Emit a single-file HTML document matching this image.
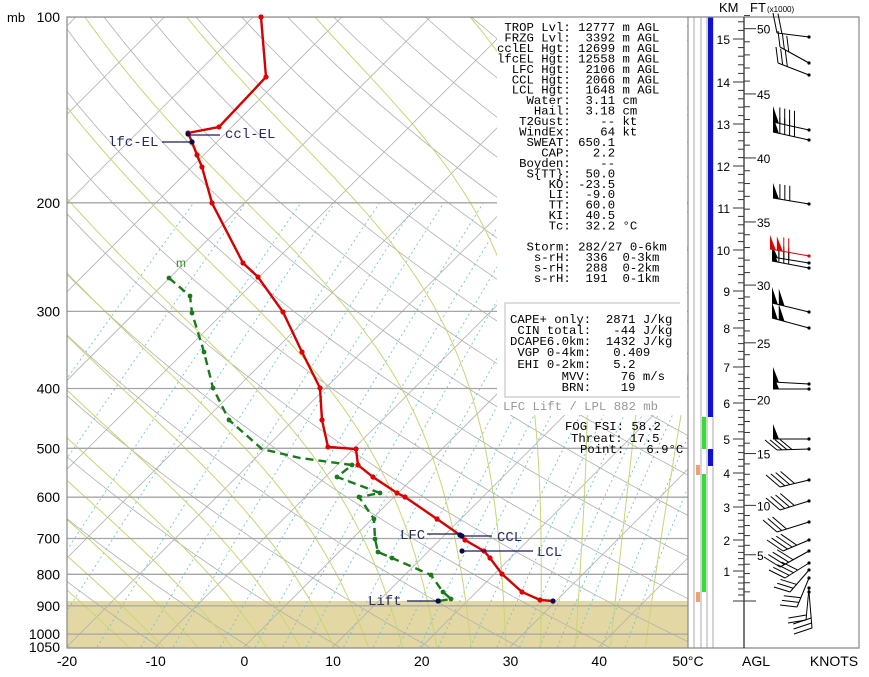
<!DOCTYPE html>
<html><head><meta charset="utf-8"><style>
html,body{margin:0;padding:0;background:#fff;}
#wrap{position:relative;width:869px;height:677px;overflow:hidden;font-family:"Liberation Sans",Arial,sans-serif;}
svg{position:absolute;left:0;top:0;}
.mono{font-family:"Liberation Mono","Courier New",monospace;font-size:12.3px;white-space:pre;fill:#000;}
</style></head><body><div id="wrap">
<svg id="s" width="869" height="677" xmlns="http://www.w3.org/2000/svg">
<defs><clipPath id="cp"><rect x="67" y="17" width="621" height="631"/></clipPath></defs>
<rect x="67" y="601" width="621" height="47" fill="#e3d8a3"/>
<g id="grid" clip-path="url(#cp)"></g>
<rect x="497" y="17" width="190" height="398" fill="#fff"/>
<g id="prof"></g>
<g id="panel"></g>
<g id="txt" font-size="14" fill="#000"></g>
</svg>
</div>
<script>
var NS="http://www.w3.org/2000/svg";
function el(parent,tag,attrs,text){var e=document.createElementNS(NS,tag);for(var k in attrs)e.setAttribute(k,attrs[k]);if(text!==undefined)e.textContent=text;parent.appendChild(e);return e;}
function Y(p){return 17+268*Math.log(p/100);}
function X(T,p){return 244+T*8.87+(647-Y(p));}
var g=document.getElementById('grid'),pr=document.getElementById('prof'),pn=document.getElementById('panel'),tx=document.getElementById('txt');
function poly(par,pts,st){var d=pts.map(function(q,i){return (i?'L':'M')+q[0].toFixed(1)+' '+q[1].toFixed(1);}).join(' ');el(par,'path',Object.assign({d:d,fill:'none'},st));}
for(var T=-120;T<=50;T+=10){poly(g,[[X(T,1050),Y(1050)],[X(T,100),Y(100)]],{stroke:'#b0b0b0','stroke-width':0.8});}
for(var th=230;th<=500;th+=10){var pts=[];for(var p=1050;p>=100;p-=10){var t=th*Math.pow(p/1000,0.286)-273.15;pts.push([X(t,p),Y(p)]);}poly(g,pts,{stroke:'#b0b0b0','stroke-width':0.8});}
var ws=[0.1,0.2,0.4,0.6,1,1.5,2,3,4,5,6,8,10,12,14,16,20,24,28,32,36,40,48,56];
ws.forEach(function(w){var pts=[];for(var p=1050;p>=200;p-=10){var e=w*p/(622+w);var l=Math.log(e/6.112);var td=243.5*l/(17.67-l);pts.push([X(td,p),Y(p)]);}poly(g,pts,{stroke:'#6cc6d2','stroke-width':0.9,'stroke-dasharray':'2,3'});});
function es(t){return 6.112*Math.exp(17.67*t/(t+243.5));}
function step(Tk,p,dp){var tc=Tk-273.15;var e=es(tc);var w=0.622*e/(p-e);var Lv=2.5e6,Rd=287,cp=1005;var dT=(Rd*Tk+Lv*w)/(p*(cp+Lv*Lv*w*0.622/(Rd*Tk*Tk)));return Tk+dT*dp;}
for(var t0=-16;t0<=44;t0+=4){var pts=[];var T2=t0+273.15;for(var q=1000;q<1050;q+=5){T2=step(T2,q,5);}
 var cur=T2;for(var q=1050;q>=100;q-=5){pts.push([X(cur-273.15,q),Y(q)]);cur=step(cur,q,-5);if(cur<273.15-90)break;}
 poly(g,pts,{stroke:'#c9d572','stroke-width':1});}
[100,200,300,400,500,600,700,800,900,1000].forEach(function(p){poly(g,[[67,Y(p)],[688,Y(p)]],{stroke:'#a5a5a5','stroke-width':1.3});});
el(pr,'rect',{x:67,y:17,width:621,height:631,fill:'none',stroke:'#888','stroke-width':1.2});
var TP=[[261,17],[266,77],[219,127],[188,133],[192,142],[197,155],[202,167],[212,203],[243,263],[258,277],[283,312],[302,352],[320,388],[322,420],[328,447],[356,449],[358,465],[373,477],[397,493],[405,497],[437,519],[460,535],[465,540],[484,551],[490,558],[502,574],[522,592],[540,600],[553,601]];
poly(pr,TP,{stroke:'#d40000','stroke-width':2.4});
TP.forEach(function(q,i){if(i<TP.length-1)el(pr,'circle',{cx:q[0],cy:q[1],r:2.6,fill:'#e00000'});});
var DP=[[169,278],[190,296],[192,313],[204,352],[213,388],[229,420],[262,449],[300,458],[352,465],[337,477],[380,493],[359,497],[374,519],[375,539],[378,552],[392,558],[431,575],[443,592],[451,599],[439,601]];
poly(pr,DP,{stroke:'#1a7a1a','stroke-width':2.4,'stroke-dasharray':'8,5'});
DP.forEach(function(q,i){if(i!=6&&i!=7)el(pr,'circle',{cx:q[0],cy:q[1],r:2.4,fill:'#1a7a1a'});});
el(pr,'text',{x:176,y:267,'font-size':12,fill:'#2a8a2a'},'m');
function lab(x1,x2,y,px,py){el(pr,'line',{x1:x1,y1:y,x2:x2,y2:y,stroke:'#1a1a5a','stroke-width':1.2});el(pr,'circle',{cx:px,cy:py,r:2.6,fill:'#0a0a50'});}
lab(162,192,142,192,142);lab(188,220,135,188,134);
lab(427,460,534,460,535);lab(462,492,536,462,536);lab(462,533,551,462,551);lab(407,438,601,438,601);
el(pr,'circle',{cx:553,cy:601,r:2.6,fill:'#0a0a50'});
var lf={'font-family':'"Liberation Mono",monospace','font-size':14,fill:'#2a2a6a'};
[['lfc-EL',108,146],['ccl-EL',225,138],['LFC',400,539],['CCL',497,541],['LCL',537,556],['Lift',368,605]].forEach(function(a){el(pr,'text',Object.assign({x:a[1],y:a[2]},lf),a[0]);});
el(tx,'text',{x:7,y:22,'font-size':13},'mb');
[100,200,300,400,500,600,700,800,900,1000,1050].forEach(function(p){el(tx,'text',{x:60,y:Y(p)+5,'text-anchor':'end','font-size':14},''+p);});
[-20,-10,0,10,20,30,40].forEach(function(t){el(tx,'text',{x:67+(t+20)*8.87,y:666,'text-anchor':'middle','font-size':14},''+t);});
el(tx,'text',{x:688,y:666,'text-anchor':'middle','font-size':14},'50°C');
el(tx,'text',{x:756,y:666,'text-anchor':'middle','font-size':14},'AGL');
el(tx,'text',{x:834,y:666,'text-anchor':'middle','font-size':14},'KNOTS');
el(tx,'text',{x:719,y:12,'font-size':13},'KM');
el(tx,'text',{x:750,y:12,'font-size':13},'FT');
el(tx,'text',{x:767,y:12,'font-size':8},'(x1000)');
var L1=[" TROP Lvl: 12777 m AGL"," FRZG Lvl:  3392 m AGL","cclEL Hgt: 12699 m AGL","lfcEL Hgt: 12558 m AGL","  LFC Hgt:  2106 m AGL","  CCL Hgt:  2066 m AGL","  LCL Hgt:  1648 m AGL","    Water:  3.11 cm","     Hail:  3.18 cm","   T2Gust:    -- kt","   WindEx:    64 kt","    SWEAT: 650.1","      CAP:   2.2","   Boyden:    --","    S{TT}:  50.0","       KO: -23.5","       LI:  -9.0","       TT:  60.0","       KI:  40.5","       Tc:  32.2 °C","","    Storm: 282/27 0-6km","     s-rH:  336  0-3km","     s-rH:  288  0-2km","     s-rH:  191  0-1km"];
L1.forEach(function(s,i){el(tx,'text',{x:497,y:31+i*10.45,'class':'mono'},s);});
el(tx,'path',{d:'M680 303 H505 V397 H680',fill:'none',stroke:'#bbb','stroke-width':1});
var L2=["CAPE+ only:  2871 J/kg"," CIN total:   -44 J/kg","DCAPE6.0km:  1432 J/kg"," VGP 0-4km:   0.409"," EHI 0-2km:   5.2","       MVV:    76 m/s","       BRN:    19"];
var ys=[323,334,345,356,368,380,391];
L2.forEach(function(s,i){el(tx,'text',{x:510,y:ys[i],'class':'mono'},s);});
el(tx,'text',{x:503,y:410,'class':'mono',style:'fill:#999'},"LFC Lift / LPL 882 mb");
el(tx,'text',{x:565,y:430,'class':'mono'},"FOG FSI: 58.2");
el(tx,'text',{x:571,y:442,'class':'mono'},"Threat: 17.5");
el(tx,'text',{x:580,y:453,'class':'mono'},"Point:   6.9°C");
[694,701,707,713].forEach(function(x){el(pn,'line',{x1:x,y1:17,x2:x,y2:648,stroke:'#aaa','stroke-width':1});});
el(pn,'rect',{x:708,y:17,width:5,height:400,fill:'#1010d0'});
el(pn,'rect',{x:708,y:449,width:5,height:17,fill:'#1010d0'});
el(pn,'rect',{x:702,y:417,width:4,height:32,fill:'#33dd33'});
el(pn,'rect',{x:702,y:474,width:4,height:118,fill:'#33dd33'});
el(pn,'rect',{x:696,y:465,width:4,height:10,fill:'#f0a070'});
el(pn,'rect',{x:696,y:592,width:4,height:10,fill:'#f0a070'});
el(pn,'path',{d:'M688 17 H859 V648 H688',fill:'none',stroke:'#888','stroke-width':1.2});
el(pn,'line',{x1:744,y1:17,x2:744,y2:648,stroke:'#222','stroke-width':1.2});
var KY=[601,571,540,507,473,439,403,367,328,291,250,208,166,124,82,39];
function kmY(k){if(k<0)return 601;var i=Math.floor(k);if(i>=15)return 39-(k-15)*43;return KY[i]+(KY[i+1]-KY[i])*(k-i);}
for(var k=0;k<=15.4;k+=0.2){var kk=Math.round(k*5)/5;var yy=kmY(kk);var maj=Math.abs(kk-Math.round(kk))<0.01;el(pn,'line',{x1:maj?733:738,y1:yy,x2:744,y2:yy,stroke:'#333','stroke-width':1});
 if(maj&&Math.round(kk)>=1)el(tx,'text',{x:730,y:yy+5,'text-anchor':'end','font-size':12},''+Math.round(kk));}
for(var f=0;f<=51;f+=1){var yy=kmY(f*0.3048);var maj=f%5==0;el(pn,'line',{x1:744,y1:yy,x2:maj?756:750,y2:yy,stroke:'#333','stroke-width':1});
 if(maj&&f>0)el(tx,'text',{x:757,y:yy+5,'font-size':12},''+f);}
function barb(R,L,flags,barbs,v,col){col=col||'#000';
 el(pn,'line',{x1:R[0],y1:R[1],x2:L[0],y2:L[1],stroke:col,'stroke-width':1});
 el(pn,'circle',{cx:R[0],cy:R[1],r:1.6,fill:col});
 var dx=R[0]-L[0],dy=R[1]-L[1],len=Math.hypot(dx,dy),ux=dx/len,uy=dy/len,pos=0;
 for(var i=0;i<flags;i++){var ax=L[0]+ux*pos,ay=L[1]+uy*pos,bx=L[0]+ux*(pos+6),by=L[1]+uy*(pos+6);
  el(pn,'polygon',{points:ax+','+ay+' '+(ax+v[0])+','+(ay+v[1])+' '+bx+','+by,fill:col});pos+=7;}
 for(var i=0;i<barbs;i++){var ax=L[0]+ux*pos,ay=L[1]+uy*pos;el(pn,'line',{x1:ax,y1:ay,x2:ax+v[0],y2:ay+v[1],stroke:col,'stroke-width':1});pos+=5;}}
barb([809,37],[777,33],0,2,[-4,-20]);
barb([809,63],[780,47],0,3,[-2,-16]);
barb([809,75],[778,63],0,3,[-2,-16]);
barb([809,130],[773,122],1,4,[0,-16]);
barb([809,140],[773,132],1,4,[0,-16]);
barb([809,204],[773,198],1,3,[0,-15]);
barb([809,268],[772,261],1,3,[0,-12]);
barb([809,263],[772,257],1,3,[0,-12]);
barb([809,256],[770,249],2,2,[0,-14],'#dd0000');
barb([809,312],[772,303],2,0,[0,-16]);
barb([809,328],[772,318],2,0,[0,-16]);
barb([809,384],[773,382],1,0,[0,-15]);
barb([809,389],[773,389],1,0,[0,-15]);
barb([809,439],[773,439],1,0,[0,-15]);
barb([809,449],[777,450],0,4,[-12,-10]);
barb([809,480],[780,487],0,4,[-14,-12]);
barb([809,501],[780,510],0,4,[-14,-12]);
barb([809,522],[777,532],0,3,[-14,-12]);
barb([809,540],[783,551],0,4,[-16,-11]);
barb([809,551],[780,567],0,4,[-16,-10]);
barb([809,563],[785,578],0,4,[-16,-8]);
barb([809,570],[790,592],0,3,[-16,-5]);
barb([809,578],[797,607],0,3,[-17,-2]);
barb([809,588],[806,620],0,2,[-18,3]);
barb([809,592],[812,628],0,3,[-18,6]);
</script>
</body></html>
